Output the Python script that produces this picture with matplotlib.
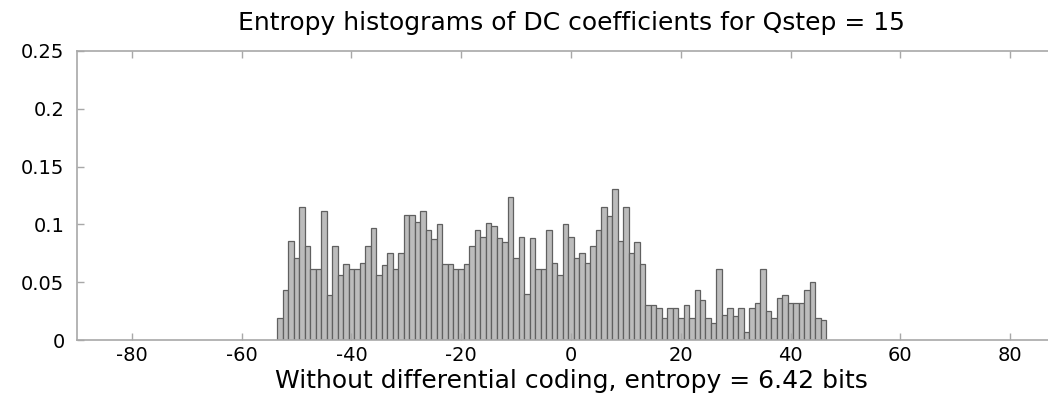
import numpy as np
import matplotlib
matplotlib.use("Agg")
import matplotlib.pyplot as plt

plt.rcParams['font.family'] = ['DejaVu Sans']

# Quantised DC coefficient values (integer bins) and their relative frequencies
dc_values = np.arange(-53, 47)
frequencies = [
    # -53 .. -37
    0.019, 0.043, 0.086, 0.071, 0.115, 0.081, 0.061, 0.061, 0.112, 0.039,
    0.081, 0.056, 0.066, 0.061, 0.061, 0.067, 0.081,
    # -36 .. -20
    0.097, 0.056, 0.065, 0.075, 0.061, 0.075, 0.108, 0.108, 0.102, 0.112,
    0.095, 0.087, 0.100, 0.066, 0.066, 0.061, 0.061,
    # -19 .. -3
    0.066, 0.081, 0.095, 0.089, 0.101, 0.099, 0.088, 0.085, 0.124, 0.071,
    0.089, 0.040, 0.088, 0.061, 0.061, 0.095, 0.067,
    # -2 .. 14
    0.056, 0.100, 0.089, 0.071, 0.075, 0.067, 0.081, 0.095, 0.115, 0.107,
    0.131, 0.086, 0.115, 0.075, 0.085, 0.066, 0.030,
    # 15 .. 31
    0.030, 0.028, 0.019, 0.028, 0.028, 0.019, 0.030, 0.019, 0.043, 0.035,
    0.019, 0.015, 0.061, 0.022, 0.028, 0.021, 0.028,
    # 32 .. 46
    0.007, 0.028, 0.032, 0.061, 0.025, 0.019, 0.036, 0.039, 0.032, 0.032,
    0.032, 0.043, 0.050, 0.019, 0.017,
]

x_ticks = [-80, -60, -40, -20, 0, 20, 40, 60, 80]
y_ticks = [0, 0.05, 0.1, 0.15, 0.2, 0.25]
y_tick_labels = ['0', '0.05', '0.1', '0.15', '0.2', '0.25']

title_text = 'Entropy histograms of DC coefficients for Qstep = 15'
xlabel_text = 'Without differential coding, entropy = 6.42 bits'

fig = plt.figure(figsize=(10.48, 4.0), dpi=100)
ax = fig.add_axes([77 / 1048, 60 / 400, 988 / 1048, 289 / 400])

ax.bar(dc_values, frequencies, width=1.0, facecolor='#bcbcbc',
       edgecolor='#606060', linewidth=0.9)

ax.set_xlim(-90, 90)
ax.set_ylim(0, 0.25)
ax.set_xticks(x_ticks)
ax.set_xticklabels([str(t) for t in x_ticks])
ax.set_yticks(y_ticks)
ax.set_yticklabels(y_tick_labels)

frame_color = '#a8a8a8'
for sp in ax.spines.values():
    sp.set_color(frame_color)
    sp.set_linewidth(1.2)
ax.tick_params(direction='in', length=5, width=1.0, color=frame_color,
               top=True, right=True, labelsize=14)
ax.tick_params(axis='x', pad=4)
ax.tick_params(axis='y', pad=9)

fig.text(0.545, 0.943, title_text, ha='center', va='center', fontsize=18)
fig.text(0.545, 0.048, xlabel_text, ha='center', va='center', fontsize=18)

fig.savefig('out.png', dpi=100)
